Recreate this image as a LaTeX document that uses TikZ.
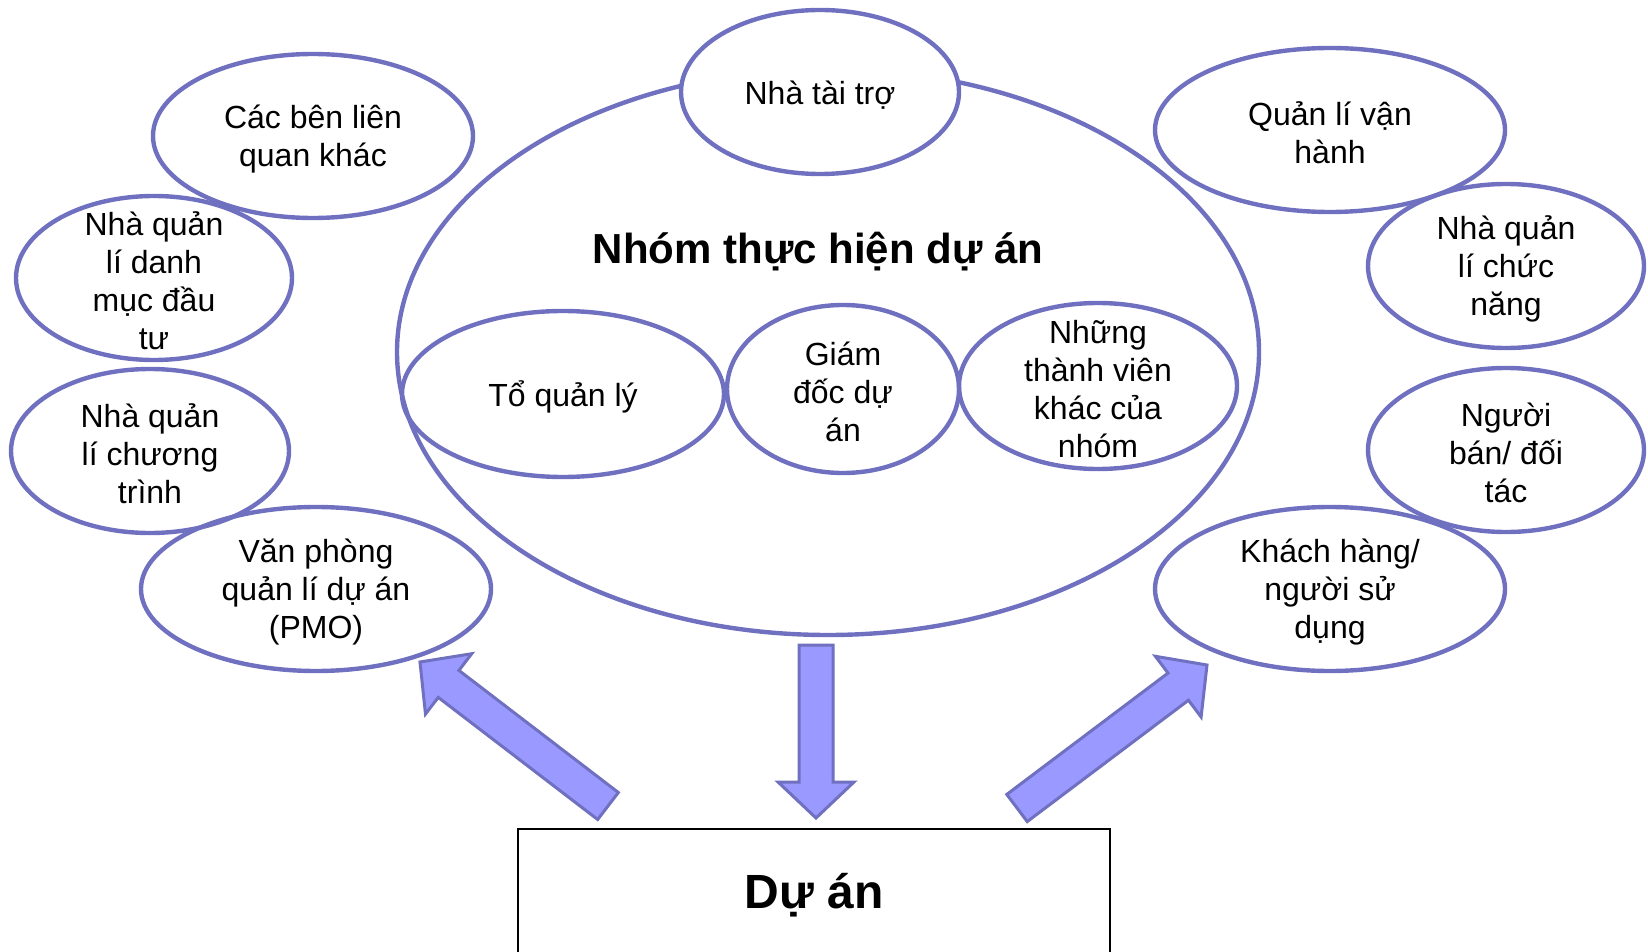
\documentclass[tikz,border=0pt]{standalone}
\usepackage{fontspec}
\setmainfont{Liberation Sans}
\usetikzlibrary{shapes.geometric,calc}

\definecolor{rim}{RGB}{112,112,192}
\definecolor{arrowfill}{RGB}{153,153,255}

\tikzset{
  bubble/.style 2 args={ellipse, draw=rim, line width=2.2pt, inner sep=0pt,
    minimum width=#1, minimum height=#2},
  every label/.style={align=center, font=\fontsize{16}{19}\selectfont, inner sep=0pt, yshift=-1.5pt},
  fatarrow/.style={draw=rim, fill=arrowfill, line width=1.5pt, line join=miter},
}

% block arrow from tail (#1) to tip (#2)
\newcommand{\blockarrow}[2]{%
  \coordinate (hb) at ($(#2)!18pt!(#1)$);
  \draw[fatarrow] ($(#1)!8.5pt!90:(#2)$) -- ($(hb)!8.5pt!90:(#2)$)
    -- ($(hb)!19pt!90:(#2)$) -- (#2) -- ($(hb)!19pt!-90:(#2)$)
    -- ($(hb)!8.5pt!-90:(#2)$) -- ($(#1)!8.5pt!-90:(#2)$) -- cycle;
}

\begin{document}
\begin{tikzpicture}[x=0.5pt, y=-0.5pt]
  \useasboundingbox (0,0) rectangle (1648,952);
  \clip (0,0) rectangle (1648,952);

  % project team
  \node[bubble={431pt}{283pt}] (team) at (828,352) {};
  \node[font=\fontsize{21}{25}\selectfont\bfseries] (title) at (818,252) {Nhóm thực hiện dự án};
  \node[bubble={139pt}{82pt}, fill=white, label=center:{Nhà tài trợ}] (sponsor) at (820,92) {};
  \node[bubble={161pt}{83pt}, label=center:{Tổ quản lý}] (board) at (563,394) {};
  \node[bubble={116pt}{84pt}, label=center:{Giám\\đốc dự\\án}] (manager) at (843,389) {};
  \node[bubble={139pt}{83pt}, label=center:{Những\\thành viên\\khác của\\nhóm}] (members) at (1098,386) {};

  % left side
  \node[bubble={160pt}{82pt}, label=center:{Các bên liên\\quan khác}] (others) at (313,136) {};
  \node[bubble={138pt}{82pt}, label=center:{Nhà quản\\lí danh\\mục đầu\\tư}] (portfolio) at (154,278) {};
  \node[bubble={139pt}{82pt}, label=center:{Nhà quản\\lí chương\\trình}] (program) at (150,451) {};
  \node[bubble={175pt}{82pt}, label=center:{Văn phòng\\quản lí dự án\\(PMO)}] (pmo) at (316,589) {};

  % right side
  \node[bubble={175pt}{82pt}, label=center:{Quản lí vận\\hành}] (operations) at (1330,130) {};
  \node[bubble={138pt}{82pt}, label=center:{Nhà quản\\lí chức\\năng}] (functional) at (1506,266) {};
  \node[bubble={138pt}{82pt}, label=center:{Người\\bán/ đối\\tác}] (vendors) at (1506,450) {};
  \node[bubble={175pt}{82pt}, label=center:{Khách hàng/\\người sử\\dụng}] (customers) at (1330,589) {};

  % project
  \node[draw=black, line width=0.8pt, minimum width=296pt, minimum height=66pt,
    font=\fontsize{24}{28}\selectfont\bfseries] (project) at (814,895) {Dự án};

  \coordinate (lefttail) at (608,806);
  \coordinate (lefttip) at (420,662);
  \coordinate (downtail) at (816,645);
  \coordinate (downtip) at (816,818);
  \coordinate (righttail) at (1017,808);
  \coordinate (righttip) at (1207,665);

  \blockarrow{lefttail}{lefttip}
  \blockarrow{downtail}{downtip}
  \blockarrow{righttail}{righttip}
\end{tikzpicture}
\end{document}
